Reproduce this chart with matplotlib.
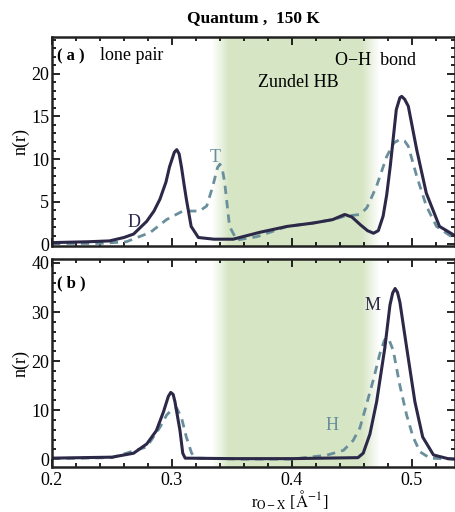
import numpy as np
import matplotlib.pyplot as plt
from matplotlib.ticker import MultipleLocator

plt.rcParams['font.family'] = ['Liberation Serif', 'DejaVu Serif']
plt.rcParams['mathtext.fontset'] = 'stix'

# panel (a): D (solid) and T (dashed)
xa_d = [0.200, 0.230, 0.248, 0.260, 0.268, 0.279, 0.285, 0.290, 0.295, 0.298, 0.302, 0.304,
        0.306, 0.308, 0.310, 0.312, 0.316, 0.322, 0.335, 0.351, 0.373, 0.396, 0.418, 0.434,
        0.444, 0.450, 0.457, 0.463, 0.468, 0.472, 0.476, 0.479, 0.482, 0.487, 0.490, 0.4915,
        0.494, 0.497, 0.504, 0.512, 0.523, 0.536]
ya_d = [0.2, 0.3, 0.4, 0.8, 1.2, 2.7, 3.9, 5.3, 7.3, 9.1, 10.8, 11.1,
        10.6, 9.0, 7.1, 5.3, 2.1, 0.8, 0.6, 0.6, 1.4, 2.1, 2.5, 2.9,
        3.5, 3.2, 2.3, 1.6, 1.3, 1.6, 3.3, 5.8, 9.2, 15.8, 17.2, 17.35,
        17.0, 16.2, 11.1, 6.0, 2.1, 1.0]
xa_t = [0.200, 0.240, 0.262, 0.282, 0.2955, 0.309, 0.323, 0.329, 0.334, 0.338, 0.340,
        0.342, 0.344, 0.348, 0.354, 0.371, 0.396, 0.418, 0.434, 0.444, 0.457, 0.4625,
        0.4705, 0.479, 0.485, 0.490, 0.494, 0.497, 0.504, 0.512, 0.5205, 0.534]
ya_t = [0.1, 0.1, 0.3, 1.4, 2.9, 3.9, 3.9, 4.5, 6.8, 9.0, 9.4,
        8.8, 7.2, 2.1, 0.5, 0.9, 2.1, 2.5, 2.9, 3.3, 3.5, 4.3,
        6.8, 10.3, 11.9, 12.3, 12.1, 11.5, 8.0, 4.5, 2.1, 0.8]

# panel (b): M (solid) and H (dashed)
xb_m = [0.200, 0.250, 0.268, 0.279, 0.287, 0.293, 0.297, 0.299, 0.301, 0.3025, 0.3067,
        0.309, 0.311, 0.350, 0.400, 0.455, 0.4594, 0.465, 0.4706, 0.4775, 0.4817, 0.484,
        0.486, 0.488, 0.490, 0.4956, 0.5025, 0.509, 0.518, 0.530, 0.536]
yb_m = [0.2, 0.4, 1.2, 3.1, 5.8, 9.7, 12.8, 13.6, 13.2, 11.7, 5.8,
        1.2, 0.2, 0.1, 0.1, 0.3, 1.2, 5.1, 11.7, 22.8, 31.4, 33.9,
        34.8, 34.0, 32.0, 22.8, 11.7, 4.5, 0.85, 0.1, 0.0]
xb_h = [0.200, 0.250, 0.279, 0.290, 0.2956, 0.300, 0.304, 0.308, 0.312, 0.3164, 0.320,
        0.360, 0.400, 0.407, 0.429, 0.443, 0.451, 0.4567, 0.462, 0.468, 0.4733, 0.477,
        0.479, 0.481, 0.4844, 0.490, 0.4956, 0.501, 0.5067, 0.515, 0.536]
yb_h = [0.1, 0.3, 2.5, 6.5, 9.0, 10.1, 10.4, 8.4, 4.5, 1.2, 0.2,
        0.0, 0.0, 0.2, 0.8, 1.8, 3.8, 6.4, 11.0, 16.3, 21.5, 24.2,
        24.8, 24.3, 22.2, 15.0, 9.0, 4.5, 1.5, 0.2, 0.0]

dark = '#2c2948'
teal = '#6a8f9c'
green = (0.84, 0.90, 0.77)

fig = plt.figure(figsize=(4.56, 5.12), dpi=100)
ax1 = fig.add_axes([0.114, 0.5195, 0.884, 0.408])
ax2 = fig.add_axes([0.114, 0.087, 0.884, 0.407])


def shade(ax, y0, y1):
    xs = np.linspace(0.333, 0.473, 300)
    alpha = np.ones_like(xs)
    alpha = np.where(xs < 0.347, (xs - 0.333) / 0.014, alpha)
    alpha = np.where(xs > 0.458, (0.473 - xs) / 0.015, alpha)
    img = np.zeros((1, len(xs), 4))
    img[..., 0], img[..., 1], img[..., 2] = green
    img[..., 3] = np.clip(alpha, 0, 1)
    ax.imshow(img, extent=[xs[0], xs[-1], y0, y1], aspect='auto', zorder=0,
              interpolation='bilinear')


for ax, ylim, minor in [(ax1, (-0.2, 24.3), 1), (ax2, (-1.7, 40.8), 2)]:
    shade(ax, *ylim)
    ax.set_xlim(0.2, 0.536)
    ax.set_ylim(*ylim)
    ax.xaxis.set_major_locator(MultipleLocator(0.1))
    ax.xaxis.set_minor_locator(MultipleLocator(0.02))
    ax.yaxis.set_minor_locator(MultipleLocator(minor))
    ax.tick_params(which='both', direction='in', top=True, right=True,
                   labelsize=13, width=1.2, pad=2)
    ax.tick_params(which='major', length=6)
    ax.tick_params(which='minor', length=3)
    for s in ax.spines.values():
        s.set_linewidth(1.8)
        s.set_color('#222222')
    ax.set_ylabel('n(r)', fontsize=13, labelpad=1)

ax1.yaxis.set_major_locator(MultipleLocator(5))
ax2.yaxis.set_major_locator(MultipleLocator(10))
ax1.tick_params(labelbottom=False)
ax2.tick_params(axis='x', pad=3)

ax1.plot(xa_t, ya_t, color=teal, lw=2, ls=(0, (3, 2.2)))
ax1.plot(xa_d, ya_d, color=dark, lw=2.2)
ax2.plot(xb_h, yb_h, color=teal, lw=2, ls=(0, (3, 2.2)))
ax2.plot(xb_m, yb_m, color=dark, lw=2.2)

ax1.text(0.204, 21.6, '( a )', fontsize=12, fontweight='bold')
ax1.text(0.240, 21.6, 'lone pair', fontsize=13)
ax1.text(0.436, 21.0, 'O\u2212H  bond', fontsize=13)
ax1.text(0.405, 18.4, 'Zundel HB', fontsize=13, ha='center')
ax1.text(0.268, 2.0, 'D', fontsize=13, color=dark, ha='center')
ax1.text(0.336, 9.6, 'T', fontsize=13, color=teal, ha='center')

ax2.text(0.204, 35.0, '( b )', fontsize=12, fontweight='bold')
ax2.text(0.4675, 30.5, 'M', fontsize=13, color=dark, ha='center')
ax2.text(0.433, 6.0, 'H', fontsize=13, color=teal, ha='center')

fig.text(0.555, 0.965, 'Quantum ,  150 K', fontsize=12.5, fontweight='bold',
         ha='center', va='center')
fig.text(0.635, 0.0, r'r$_{\mathrm{O-X}}$ [$\mathrm{\AA}^{-1}$]', fontsize=12,
         ha='center', va='bottom')

fig.savefig('out.png', dpi=100)
